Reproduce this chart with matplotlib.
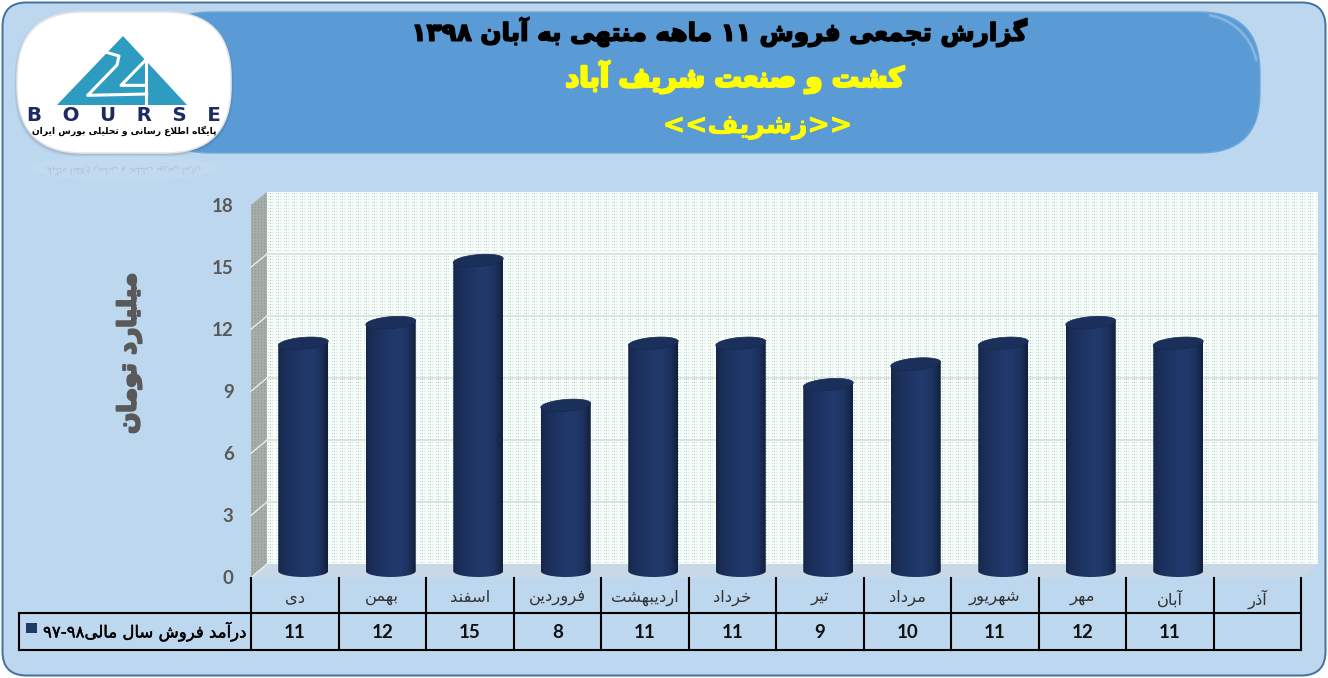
import unicodedata
import numpy as np
import matplotlib
matplotlib.use("Agg")
import matplotlib.pyplot as plt
from matplotlib.patches import FancyBboxPatch, Polygon, Ellipse, PathPatch, Rectangle
from matplotlib.path import Path
import matplotlib.patheffects as pe
from matplotlib.transforms import blended_transform_factory

# ---------- data ----------
categories = ["دی", "بهمن", "اسفند", "فروردین", "اردیبهشت", "خرداد",
              "تیر", "مرداد", "شهریور", "مهر", "آبان", "آذر"]
sales = [11, 12, 15, 8, 11, 11, 9, 10, 11, 12, 11, None]
y_ticks = [0, 3, 6, 9, 12, 15, 18]
series_name = "درآمد فروش سال مالی۹۷-۹۸"
y_label = "میلیارد تومان"
title_1 = "گزارش تجمعی فروش ۱۱ ماهه منتهی به آبان ۱۳۹۸"
title_2 = "کشت و صنعت شریف آباد"
title_3 = "زشریف"
logo_name = "B   O   U   R   S   E"
logo_sub = "پایگاه اطلاع رسانی و تحلیلی بورس ایران"

# ---------- Arabic shaping (matplotlib does not shape or reorder) ----------
FORMS = {}
for cp in list(range(0xFB50, 0xFE00)) + list(range(0xFE70, 0xFEFF)):
    dec = unicodedata.decomposition(chr(cp)).split()
    if len(dec) == 2 and dec[0].startswith("<"):
        FORMS.setdefault(chr(int(dec[1], 16)), {})[dec[0][1:-1]] = chr(cp)
RIGHT_ONLY = set("اآأإدذرزژوؤةء")
DIGITS = set("۰۱۲۳۴۵۶۷۸۹0123456789-")


def shape(text):
    text = text.replace("لا", "\ufefb")
    out = []
    n = len(text)
    for i, ch in enumerate(text):
        prev = text[i - 1] if i else " "
        nxt = text[i + 1] if i + 1 < n else " "
        joins_prev = prev in FORMS and prev not in RIGHT_ONLY and prev != "\ufefb"
        joins_next = (nxt in FORMS or nxt == "\ufefb") and ch not in RIGHT_ONLY
        if ch == "\ufefb":
            out.append("\ufefc" if joins_prev else "\ufefb")
        elif ch in FORMS:
            f = FORMS[ch]
            if joins_prev and joins_next and "medial" in f:
                out.append(f["medial"])
            elif joins_prev and "final" in f:
                out.append(f["final"])
            elif joins_next and "initial" in f:
                out.append(f["initial"])
            else:
                out.append(f.get("isolated", ch))
        else:
            out.append(ch)
    out = out[::-1]
    res, run = [], []
    for ch in out:
        if ch in DIGITS:
            run.append(ch)
        else:
            res.extend(run[::-1])
            run = []
            res.append(ch)
    res.extend(run[::-1])
    return "".join(res)


# ---------- layout (pixels) ----------
W, H = 1328, 678
AX_L, AX_R, AX_T, AX_B = 251, 1301, 205, 577.5
WALL_L, WALL_R, WALL_T, WALL_B = 267, 1318, 192, 564
TABLE_L, ROW_1, ROW_2 = 19, 613, 649.5

fig = plt.figure(figsize=(W / 100, H / 100), dpi=100, facecolor="white")
bg = fig.add_axes([0, 0, 1, 1], zorder=0)
bg.set_axis_off()

# frame
bg.add_patch(FancyBboxPatch((2.5, 2.5), W - 5, H - 5, boxstyle="round,pad=0,rounding_size=24",
                            fc="#BDD7EE", ec="#41719C", lw=1.4))
# header band
bg.add_patch(FancyBboxPatch((150, 12), 1110, 141, boxstyle="round,pad=0,rounding_size=60",
                            fc="#5B9BD5", ec="#6FA8DC", lw=1.0))
arc = np.radians(np.linspace(-80, -12, 40))
bg.plot(1200 + 57.5 * np.cos(arc), 72 + 57.5 * np.sin(arc), color="#9CC3E6", lw=2.0, alpha=0.65,
        solid_capstyle="round")

# logo
for grow, alpha in [(5, 0.05), (3.5, 0.07), (2, 0.10), (1, 0.12)]:
    bg.add_patch(FancyBboxPatch((17 - grow * 0.5, 14 - grow * 0.3), 214 + grow, 139 + grow,
                                boxstyle="round,pad=0,rounding_size=66", fc="#1F3A5F", ec="none", alpha=alpha))
logo = FancyBboxPatch((17, 12), 214, 141, boxstyle="round,pad=0,rounding_size=66",
                      fc="white", ec="#E6E6E6", lw=1.2)
bg.add_patch(logo)
bg.add_patch(Polygon([(123, 36), (57, 105), (187, 105)], fc="#2E9BC1", ec="none"))


def lz(x, y):
    return (x / 3 + 15, y / 3 + 10)


two = [lz(*p) for p in [(278, 128), (312, 138), (306, 165), (218, 256), (395, 252)]]
one = [lz(*p) for p in [(392, 150), (318, 226), (388, 226)]]
stem = [lz(*p) for p in [(392, 150), (392, 290)]]
for pts in (two, one, stem):
    bg.plot(*zip(*pts), color="white", lw=2.2, solid_joinstyle="round")
bg.text(124, 115.5, logo_name, ha="center", va="center", fontsize=14.2, color="#1E2A63",
        family="DejaVu Sans", fontweight="bold")
t = bg.text(124, 131, shape(logo_sub), ha="center", va="center", fontsize=6.6, color="black",
            family="DejaVu Sans", fontweight="bold")
t.set_clip_path(logo)
# logo reflection
bg.add_patch(Ellipse((124, 168), 185, 26, fc="white", ec="none", alpha=0.08))
bg.text(124, 170, shape(logo_sub), ha="center", va="center", fontsize=6.6, color="#7F9DB8",
        family="DejaVu Sans", rotation=180, alpha=0.35)

# titles
bg.text(720, 32, shape(title_1), ha="center", va="center", fontsize=17.8, color="black",
        family="DejaVu Sans", fontweight="bold",
        path_effects=[pe.withStroke(linewidth=1.1, foreground="black")])
bg.text(735, 77, shape(title_2), ha="center", va="center", fontsize=19.6, color="#FFFF00",
        family="DejaVu Sans", fontweight="bold",
        path_effects=[pe.withStroke(linewidth=1.8, foreground="#FFFF00")])
bg.text(757.5, 127, "<<" + shape(title_3) + ">>", ha="center", va="center", fontsize=19.2, color="#FFFF00",
        family="DejaVu Sans", fontweight="bold",
        path_effects=[pe.withStroke(linewidth=0.6, foreground="#FFFF00")])

# back wall texture
h = int(WALL_B - WALL_T)
w = int(WALL_R - WALL_L)
wall = np.ones((h, w, 3)) * np.array([0.975, 0.992, 0.982])
wall[1::3, 1::4] = np.array([0.78, 0.91, 0.84])
wall[1::3, 3::8] = np.array([0.60, 0.78, 0.68])
bg.imshow(wall, extent=(WALL_L, WALL_R, WALL_B, WALL_T), origin="upper", aspect="auto",
          interpolation="nearest", zorder=1)

# floor
bg.add_patch(Polygon([(AX_L, AX_B), (WALL_L, WALL_B), (WALL_R, WALL_B), (AX_R + 2, AX_B)],
                     fc="#C9D8E6", ec="none", zorder=1))

# side wall texture
sh, sw = int(AX_B - WALL_T), int(WALL_L - AX_L)
side = np.ones((sh, sw, 3)) * np.array([0.65, 0.68, 0.66])
side[1::3, 1::3] = np.array([0.56, 0.59, 0.57])
im = bg.imshow(side, extent=(AX_L, WALL_L, AX_B, WALL_T), origin="upper", aspect="auto",
               interpolation="nearest", zorder=1)
side_poly = Polygon([(AX_L, AX_T), (WALL_L, WALL_T), (WALL_L, WALL_B), (AX_L, AX_B)],
                    transform=bg.transData, fc="none", ec="none")
bg.add_patch(side_poly)
im.set_clip_path(side_poly)

# grid lines on walls
ymax = max(y_ticks)
for v in y_ticks[:-1]:
    wy = WALL_B - v * (WALL_B - WALL_T) / ymax
    fy = AX_B - v * (AX_B - AX_T) / ymax
    if v:
        bg.plot([WALL_L, WALL_R], [wy, wy], color="#D5E1D9", lw=1.2, zorder=2)
    bg.plot([AX_L, WALL_L], [fy, wy], color="#E9EEE9", lw=1.0, zorder=2)

# table rules
vx = np.linspace(AX_L, AX_R, len(categories) + 1)
TL = dict(color="black", lw=1.5, zorder=3, solid_capstyle="projecting")
bg.plot([TABLE_L, AX_R], [ROW_1, ROW_1], **TL)
bg.plot([TABLE_L, AX_R], [ROW_2, ROW_2], **TL)
bg.plot([TABLE_L, TABLE_L], [ROW_1, ROW_2], **TL)
for x in vx:
    bg.plot([x, x], [AX_B, ROW_2], **TL)

# legend cell
bg.add_patch(Rectangle((26, 623), 11, 10, fc="#1F3864", ec="none", zorder=3))
bg.text(246, 631.5, shape(series_name), ha="right", va="center", fontsize=11.9, color="black",
        family="DejaVu Sans", zorder=3,
        path_effects=[pe.withStroke(linewidth=0.3, foreground="black")])

bg.set_xlim(0, W)
bg.set_ylim(H, 0)

# y axis title
bg.text(129, 353, shape(y_label), rotation=90, ha="center", va="center", fontsize=17.8, color="#595959",
        family="DejaVu Sans", fontweight="bold",
        path_effects=[pe.withStroke(linewidth=1.6, foreground="#595959")])

# ---------- chart axes ----------
ax = fig.add_axes([AX_L / W, 1 - AX_B / H, (AX_R - AX_L) / W, (AX_B - AX_T) / H], zorder=2)
ax.patch.set_alpha(0)
for s in ax.spines.values():
    s.set_visible(False)

n = len(categories)
px_x = n / (AX_R - AX_L)          # data units per pixel
px_y = ymax / (AX_B - AX_T)
dx = 8.5 * px_x                   # perspective shift of the columns
base = 6.5 * px_y
half_w = 25 * px_x
ell_h = 6 * px_y
tilt = 2 * px_y                   # the column tops lean up to the right

grad_x = np.array([0, .06, .2, .5, .68, .85, .95, 1])
grad_c = np.array([[21, 38, 72], [24, 43, 82], [27, 48, 92], [32, 57, 106],
                   [33, 58, 108], [28, 50, 94], [21, 38, 72], [17, 31, 58]]) / 255
xs = np.linspace(0, 1, 64)
grad = np.stack([np.interp(xs, grad_x, grad_c[:, i]) for i in range(3)], axis=-1)[None, :, :]

for i, v in enumerate(sales):
    if v is None:
        continue
    cx = i + dx
    top = v + base
    th = np.linspace(np.pi, 2 * np.pi, 40)
    ex = cx + half_w * np.cos(th)
    ey = base + ell_h * np.sin(th)
    verts = list(zip(ex, ey)) + [(cx + half_w, top + tilt), (cx - half_w, top - tilt), (cx - half_w, base)]
    clip = PathPatch(Path(verts, closed=False), transform=ax.transData, fc="none", ec="none")
    ax.add_patch(clip)
    body = ax.imshow(grad, extent=(cx - half_w, cx + half_w, base - ell_h, top + tilt), origin="lower",
                     aspect="auto", interpolation="bilinear", zorder=4)
    body.set_clip_path(clip)
    ph = np.linspace(0, 2 * np.pi, 80)
    lid = np.column_stack([cx + half_w * np.cos(ph),
                           top + ell_h * np.sin(ph) + tilt * np.cos(ph)])
    ax.add_patch(Polygon(lid, closed=True, fc="#1A2F59", ec="#18294E", lw=0.5, zorder=5))

ax.set_xlim(-0.5, n - 0.5)
ax.set_ylim(0, ymax)
ax.set_yticks(y_ticks)
ax.set_yticklabels([str(v) for v in y_ticks], family="Lato", fontweight="bold", fontsize=13.5, color="#595959")
ax.set_xticks(range(n))
ax.set_xticklabels([shape(c) for c in categories], family="DejaVu Sans", fontsize=11.8, color="#333333")
ax.tick_params(axis="y", length=0, pad=12.5)
ax.tick_params(axis="x", length=0, pad=9)

# table values
row_tr = blended_transform_factory(ax.transData, bg.transData)
for i, v in enumerate(sales):
    if v is not None:
        ax.text(i, 632, str(v), transform=row_tr, ha="center", va="center", clip_on=False,
                family="Lato", fontweight="bold", fontsize=13.5, color="#111111")

fig.savefig("out.png", dpi=100, facecolor="white")
